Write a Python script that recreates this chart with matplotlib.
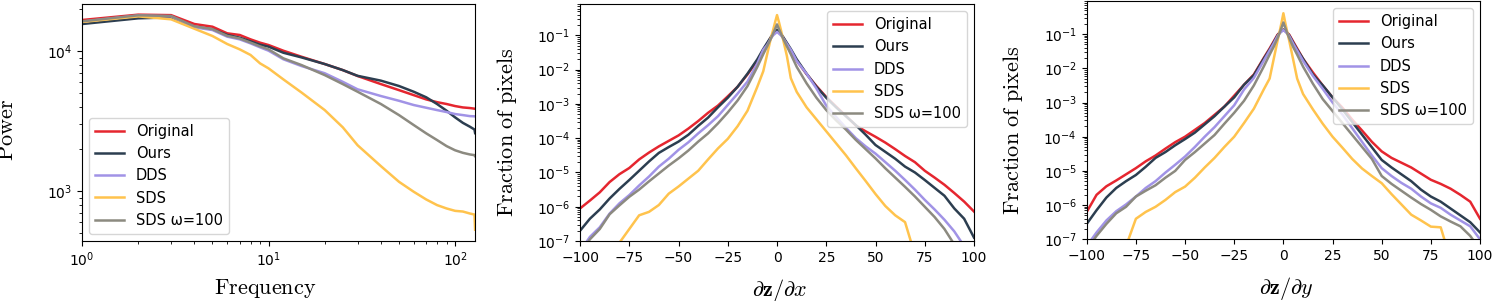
import matplotlib
matplotlib.use("Agg")
import matplotlib.pyplot as plt
import numpy as np

plt.rcParams["mathtext.fontset"] = "cm"

names = ["Original", "Ours", "DDS", "SDS", "SDS ω=100"]
colors = ["#e5262f", "#2c3e50", "#a193e6", "#ffc34d", "#8c8a80"]

# power spectrum (panel 1)
freq = [1, 2, 3, 4, 5, 6, 7, 8, 9, 10, 12, 15, 20, 25, 30, 40, 50, 60, 70, 80,
        90, 100, 110, 120, 127, 128]
pow_orig = [16750, 18290, 18150, 15680, 15000, 13450, 13090, 12180, 11530, 11090,
            10100, 9150, 8110, 7340, 6660, 5830, 5280, 4860, 4530, 4330,
            4200, 4060, 3970, 3930, 3890, 3880]
pow_ours = [15680, 17220, 17500, 15000, 14370, 13090, 12520, 11780, 11150, 10800,
            9770, 9050, 8110, 7340, 6680, 6170, 5650, 5140, 4690, 4200,
            3760, 3370, 3080, 2890, 2760, 2600]
pow_dds = [16300, 18000, 17800, 14850, 14200, 12730, 12180, 11400, 10680, 10100,
           8770, 7850, 6970, 6050, 5350, 4790, 4430, 4130, 3950, 3800,
           3680, 3560, 3500, 3440, 3430, 3420]
pow_sds = [16220, 17780, 16940, 14510, 12870, 11280, 10330, 9420, 8200, 7550,
           6300, 5080, 3800, 2860, 2130, 1510, 1167, 990, 872, 795,
           752, 723, 715, 692, 680, 530]
pow_sdsw = [16400, 18100, 17900, 15100, 14400, 12900, 12350, 11550, 10850, 10330,
            8910, 7980, 6760, 5830, 5140, 4200, 3500, 2970, 2590, 2320,
            2100, 1960, 1880, 1830, 1810, 1780]

# gradient histograms, log10 of fraction of pixels (panels 2 and 3)
grad = [-100, -95, -90, -85, -80, -75, -70, -65, -60, -55, -50, -45, -40, -35, -30,
        -25, -20, -15, -10, -7, -5, -3, -2, -1, 0, 1, 2, 3, 5, 7, 10, 15, 20, 25,
        30, 35, 40, 45, 50, 55, 60, 65, 70, 75, 80, 85, 90, 95, 100]

dx_orig = [-6.05, -5.82, -5.58, -5.28, -5.05, -4.87, -4.62, -4.42, -4.24, -4.08, -3.92,
           -3.72, -3.50, -3.26, -3.05, -2.78, -2.50, -2.14, -1.74, -1.45, -1.25, -1.05,
           -0.97, -0.90, -0.86, -0.90, -0.97, -1.05, -1.25, -1.45, -1.74, -2.13, -2.48,
           -2.80, -3.08, -3.35, -3.63, -3.80, -3.96, -4.13, -4.32, -4.52, -4.70, -4.95,
           -5.15, -5.36, -5.60, -5.85, -6.14]
dx_ours = [-6.70, -6.35, -6.08, -5.76, -5.48, -5.22, -4.95, -4.68, -4.43, -4.26, -4.10,
           -3.90, -3.64, -3.40, -3.10, -2.82, -2.50, -2.12, -1.70, -1.40, -1.22, -1.04,
           -0.96, -0.90, -0.84, -0.90, -0.96, -1.04, -1.22, -1.40, -1.70, -2.12, -2.50,
           -2.82, -3.10, -3.36, -3.62, -3.90, -4.20, -4.40, -4.60, -4.83, -5.00, -5.22,
           -5.45, -5.68, -6.05, -6.35, -6.90]
dx_dds = [-7.30, -6.88, -6.60, -6.20, -5.90, -5.66, -5.38, -5.12, -4.83, -4.60, -4.34,
          -4.12, -3.86, -3.62, -3.36, -3.03, -2.70, -2.35, -1.82, -1.42, -1.28, -1.08,
          -1.00, -0.95, -0.90, -0.95, -1.00, -1.07, -1.25, -1.42, -1.75, -2.12, -2.55,
          -3.05, -3.38, -3.70, -4.00, -4.24, -4.45, -4.70, -4.95, -5.22, -5.50, -5.80,
          -6.08, -6.38, -6.72, -7.15, -7.60]
dx_sds = [-7.80, -7.60, -7.40, -7.20, -7.05, -6.65, -6.25, -6.15, -5.95, -5.62, -5.41,
          -5.18, -4.95, -4.62, -4.30, -4.02, -3.65, -3.20, -2.50, -2.05, -1.55, -1.05,
          -0.85, -0.62, -0.41, -0.62, -0.85, -1.10, -1.60, -2.25, -2.65, -3.10, -3.45,
          -3.80, -4.15, -4.50, -4.88, -5.25, -5.63, -5.98, -6.25, -6.45, -7.40, -8.0,
          -8.0, -8.0, -8.0, -8.0, -8.0]
dx_sdsw = [-7.40, -6.95, -6.65, -6.22, -5.96, -5.71, -5.50, -5.26, -5.03, -4.80, -4.59,
           -4.36, -4.10, -3.86, -3.57, -3.25, -2.90, -2.48, -1.92, -1.55, -1.32, -1.08,
           -0.95, -0.82, -0.68, -0.82, -0.95, -1.08, -1.32, -1.55, -1.92, -2.40, -2.82,
           -3.18, -3.48, -3.75, -4.05, -4.32, -4.59, -4.88, -5.15, -5.42, -5.70, -6.00,
           -6.30, -6.65, -7.10, -7.50, -7.80]

dy_orig = [-6.20, -5.70, -5.45, -5.28, -5.10, -4.92, -4.72, -4.55, -4.35, -4.16, -4.00,
           -3.80, -3.60, -3.36, -3.12, -2.80, -2.48, -2.18, -1.70, -1.42, -1.22, -1.02,
           -0.96, -0.91, -0.87, -0.91, -0.96, -1.02, -1.22, -1.42, -1.72, -2.12, -2.50,
           -2.85, -3.15, -3.50, -3.82, -4.15, -4.43, -4.62, -4.76, -4.90, -5.08, -5.26,
           -5.38, -5.52, -5.70, -5.90, -6.40]
dy_ours = [-6.55, -6.15, -5.78, -5.50, -5.30, -5.12, -4.88, -4.62, -4.45, -4.25, -4.07,
           -3.88, -3.64, -3.40, -3.12, -2.85, -2.48, -2.20, -1.72, -1.45, -1.25, -1.04,
           -0.97, -0.91, -0.87, -0.91, -0.97, -1.04, -1.25, -1.45, -1.72, -2.18, -2.50,
           -2.85, -3.20, -3.57, -3.94, -4.31, -4.68, -4.90, -5.10, -5.30, -5.55, -5.75,
           -5.90, -6.10, -6.30, -6.50, -6.80]
dy_dds = [-7.20, -6.80, -6.45, -6.18, -5.98, -5.75, -5.50, -5.30, -5.05, -4.82, -4.58,
          -4.30, -4.00, -3.72, -3.40, -3.08, -2.62, -2.28, -1.78, -1.48, -1.28, -1.06,
          -0.98, -0.93, -0.88, -0.93, -0.98, -1.06, -1.28, -1.48, -1.78, -2.22, -2.60,
          -3.00, -3.35, -3.75, -4.15, -4.55, -4.92, -5.15, -5.35, -5.52, -5.75, -5.95,
          -6.08, -6.28, -6.45, -6.62, -7.00]
dy_sds = [-7.80, -7.80, -7.80, -7.80, -7.20, -6.40, -6.20, -6.05, -5.85, -5.62, -5.46,
          -5.20, -4.90, -4.62, -4.30, -4.00, -3.60, -3.18, -2.62, -2.30, -1.75, -1.20,
          -0.95, -0.68, -0.39, -0.68, -0.95, -1.20, -1.75, -2.30, -2.75, -3.20, -3.62,
          -4.00, -4.32, -4.65, -4.93, -5.15, -5.36, -5.68, -5.98, -6.28, -6.45, -6.63,
          -6.65, -7.60, -8.0, -8.0, -8.0]
dy_sdsw = [-7.30, -6.90, -6.55, -6.24, -6.05, -5.75, -5.58, -5.42, -5.20, -5.00, -4.68,
           -4.45, -4.20, -3.95, -3.62, -3.30, -2.95, -2.50, -1.95, -1.60, -1.38, -1.12,
           -0.98, -0.82, -0.66, -0.82, -0.98, -1.12, -1.38, -1.60, -1.95, -2.45, -2.90,
           -3.25, -3.60, -3.95, -4.30, -4.65, -5.15, -5.38, -5.58, -5.78, -5.97, -6.14,
           -6.33, -6.48, -6.62, -6.90, -7.30]

fig = plt.figure(figsize=(14.95, 3.01), dpi=100)
ax1 = fig.add_axes([0.0549, 0.1993, 0.2629, 0.7874])
ax2 = fig.add_axes([0.3880, 0.1993, 0.2635, 0.7874])
ax3 = fig.add_axes([0.7269, 0.2050, 0.2631, 0.7917])

lw = 1.8
for vals, name, c in zip([pow_orig, pow_ours, pow_dds, pow_sds, pow_sdsw], names, colors):
    ax1.plot(freq, vals, color=c, lw=lw, label=name)
ax1.set_xscale("log")
ax1.set_yscale("log")
ax1.set_xlim(1, 128)
ax1.set_ylim(440, 21800)
ax1.set_xlabel(r"$\mathrm{Frequency}$", fontsize=16)
ax1.set_ylabel(r"$\mathrm{Power}$", fontsize=16)
ax1.xaxis.set_label_coords(0.466, -0.15)
ax1.yaxis.set_label_coords(-0.165, 0.468)
ax1.legend(loc="lower left", fontsize=10.5)

hists = [
    (ax2, [dx_orig, dx_ours, dx_dds, dx_sds, dx_sdsw], r"$\partial\mathbf{z}/\partial x$", 0.82),
    (ax3, [dy_orig, dy_ours, dy_dds, dy_sds, dy_sdsw], r"$\partial\mathbf{z}/\partial y$", 0.93),
]
for ax, series, xl, top in hists:
    for vals, name, c in zip(series, names, colors):
        ax.plot(grad, 10.0 ** np.array(vals), color=c, lw=lw, label=name)
    ax.set_yscale("log")
    ax.set_xlim(-100, 100)
    ax.set_ylim(1e-7, top)
    ax.set_xticks([-100, -75, -50, -25, 0, 25, 50, 75, 100])
    ax.set_xlabel(xl, fontsize=16)
    ax.set_ylabel(r"$\mathrm{Fraction\ of\ pixels}$", fontsize=16)
    ax.xaxis.set_label_coords(0.508, -0.15)
    ax.yaxis.set_label_coords(-0.156, 0.458)
    ax.legend(loc="upper right", fontsize=10.5)

for ax in (ax1, ax2, ax3):
    ax.tick_params(labelsize=10)

fig.savefig("out.png", dpi=100)
